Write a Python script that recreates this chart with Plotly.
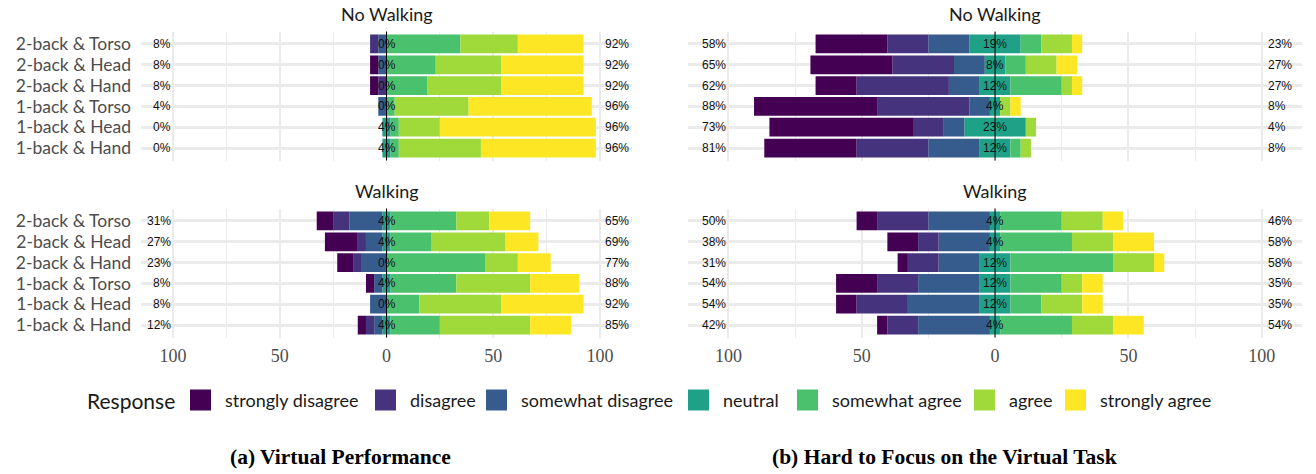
import plotly.graph_objects as go

# ---------------- data (counts out of N respondents) ----------------
N = 26
rows = ["2-back & Torso", "2-back & Head", "2-back & Hand",
        "1-back & Torso", "1-back & Head", "1-back & Hand"]
levels = ["strongly disagree", "disagree", "somewhat disagree", "neutral",
          "somewhat agree", "agree", "strongly agree"]
colors = ["#440154", "#46337E", "#365C8D", "#1FA187", "#4AC16D", "#9FDA3A", "#FDE725"]

# (a) Virtual Performance - No Walking
vp_nw_sd = [0, 1, 1, 0, 0, 0]
vp_nw_d = [1, 0, 1, 0, 0, 0]
vp_nw_swd = [1, 1, 0, 1, 0, 0]
vp_nw_n = [0, 0, 0, 0, 1, 1]
vp_nw_swa = [9, 6, 5, 1, 1, 1]
vp_nw_a = [7, 8, 9, 9, 5, 10]
vp_nw_sa = [8, 10, 10, 15, 19, 14]

# (a) Virtual Performance - Walking
vp_w_sd = [2, 4, 2, 1, 0, 1]
vp_w_d = [2, 1, 1, 0, 0, 1]
vp_w_swd = [4, 2, 3, 1, 2, 1]
vp_w_n = [1, 1, 0, 1, 0, 1]
vp_w_swa = [8, 5, 12, 8, 4, 6]
vp_w_a = [4, 9, 4, 9, 10, 11]
vp_w_sa = [5, 4, 4, 6, 10, 5]

# (b) Hard to Focus on the Virtual Task - No Walking
hf_nw_sd = [7, 8, 4, 12, 14, 9]
hf_nw_d = [4, 6, 9, 9, 3, 7]
hf_nw_swd = [4, 3, 3, 2, 2, 5]
hf_nw_n = [5, 2, 3, 1, 6, 3]
hf_nw_swa = [2, 2, 5, 0, 0, 1]
hf_nw_a = [3, 3, 1, 1, 1, 1]
hf_nw_sa = [1, 2, 1, 1, 0, 0]

# (b) Hard to Focus on the Virtual Task - Walking
hf_w_sd = [2, 3, 1, 4, 2, 1]
hf_w_d = [5, 2, 3, 4, 5, 3]
hf_w_swd = [6, 5, 4, 6, 7, 7]
hf_w_n = [1, 1, 3, 3, 3, 1]
hf_w_swa = [6, 7, 10, 5, 3, 7]
hf_w_a = [4, 4, 4, 2, 4, 4]
hf_w_sa = [2, 4, 1, 2, 2, 3]

panel_titles = ["No Walking", "No Walking", "Walking", "Walking"]
captions = ["(a) Virtual Performance", "(b) Hard to Focus on the Virtual Task"]
tick_vals = [-100, -50, 0, 50, 100]
tick_text = ["100", "50", "0", "50", "100"]

panels = [
    (vp_nw_sd, vp_nw_d, vp_nw_swd, vp_nw_n, vp_nw_swa, vp_nw_a, vp_nw_sa),
    (hf_nw_sd, hf_nw_d, hf_nw_swd, hf_nw_n, hf_nw_swa, hf_nw_a, hf_nw_sa),
    (vp_w_sd, vp_w_d, vp_w_swd, vp_w_n, vp_w_swa, vp_w_a, vp_w_sa),
    (hf_w_sd, hf_w_d, hf_w_swd, hf_w_n, hf_w_swa, hf_w_a, hf_w_sa),
]

# ---------------- layout geometry ----------------
W, H = 1316, 474
x_domains = [(141 / W, 632 / W), (688.4 / W, 1301.7 / W)]
y_domains = [(1 - 160.5 / H, 1 - 31.5 / H), (1 - 337.5 / H, 1 - 208.5 / H)]
XR = [-115, 115]

SANS = "Lato"
SERIF = "Liberation Serif"
NUMF = "Liberation Sans"
GRID = "#EBEBEB"

fig = go.Figure()


def pct(c):
    return c * 100.0 / N


annotations = []
shapes = []

for p, data in enumerate(panels):
    sd, d, swd, n, swa, a, sa = data
    ax = "" if p == 0 else str(p + 1)
    xa, ya = "x" + ax, "y" + ax
    half_n = [pct(v) / 2 for v in n]
    series = [
        (3, [-v for v in half_n]),
        (3, half_n),
        (2, [-pct(v) for v in swd]),
        (4, [pct(v) for v in swa]),
        (1, [-pct(v) for v in d]),
        (5, [pct(v) for v in a]),
        (0, [-pct(v) for v in sd]),
        (6, [pct(v) for v in sa]),
    ]
    for li, vals in series:
        fig.add_trace(go.Bar(
            y=rows, x=vals, orientation="h", width=0.9,
            marker=dict(color=colors[li], line=dict(width=0)),
            name=levels[li], showlegend=False, xaxis=xa, yaxis=ya,
            hovertemplate=levels[li] + ": %{x:.0f}%<extra></extra>",
        ))
    # percent labels
    for i, r in enumerate(rows):
        low = round(pct(sd[i] + d[i] + swd[i]))
        high = round(pct(swa[i] + a[i] + sa[i]))
        neu = round(pct(n[i]))
        common = dict(xref=xa, yref=ya, y=r, showarrow=False,
                      font=dict(family=NUMF, size=12, color="#111111"))
        annotations.append(dict(x=-100, text=f"{low}%", xanchor="right", **common))
        annotations.append(dict(x=101.5, text=f"{high}%", xanchor="left", **common))
        annotations.append(dict(x=0, text=f"{neu}%", xanchor="center", **common))
    # centre line
    shapes.append(dict(type="line", xref=xa, yref=ya + " domain", x0=0, x1=0, y0=0, y1=1,
                       line=dict(color="black", width=1), layer="above"))
    # strip title
    annotations.append(dict(xref=xa + " domain", yref=ya + " domain", x=0.5, y=1,
                            yshift=17.5, yanchor="middle", xanchor="center",
                            text=panel_titles[p], showarrow=False,
                            font=dict(family=SANS, size=18, color="#1A1A1A")))

layout_axes = {}
for p in range(4):
    col = p % 2
    row = p // 2
    ax = "" if p == 0 else str(p + 1)
    layout_axes["xaxis" + ax] = dict(
        domain=x_domains[col], anchor="y" + ax, range=XR, fixedrange=True,
        tickvals=tick_vals, ticktext=tick_text, showticklabels=(row == 1),
        ticks="", showline=False, zeroline=False,
        showgrid=True, gridcolor=GRID, gridwidth=1.7,
        minor=dict(tickvals=[-75, -25, 25, 75], showgrid=True, gridcolor=GRID, gridwidth=1),
        tickfont=dict(family=SERIF, size=18, color="#4D4D4D"),
        ticklabelstandoff=5,
    )
    layout_axes["yaxis" + ax] = dict(
        domain=y_domains[row], anchor="x" + ax, type="category",
        categoryorder="array", categoryarray=rows, range=[5.6, -0.6],
        tickmode="array", tickvals=rows, ticktext=rows,
        showticklabels=(col == 0), ticks="", showline=False, zeroline=False,
        showgrid=True, gridcolor=GRID, gridwidth=2.5, fixedrange=True,
        tickfont=dict(family=SANS, size=17.5, color="#4D4D4D"),
        ticklabelstandoff=9,
    )

# ---------------- manual legend ----------------
legend_swatch_x = [190, 375, 486, 688, 797, 974, 1065]
legend_y = 400
sw = 21
annotations.append(dict(xref="paper", yref="paper", x=85 / W, y=1 - legend_y / H,
                        xanchor="left", yanchor="middle", text="Response", showarrow=False,
                        font=dict(family=SANS, size=21, color="#1A1A1A")))
for li, sx in enumerate(legend_swatch_x):
    shapes.append(dict(type="rect", xref="paper", yref="paper",
                       x0=sx / W, x1=(sx + sw) / W,
                       y0=1 - (legend_y + sw / 2) / H, y1=1 - (legend_y - sw / 2) / H,
                       fillcolor=colors[li], line=dict(width=0)))
    annotations.append(dict(xref="paper", yref="paper", x=(sx + sw + 12) / W,
                            y=1 - legend_y / H, xanchor="left", yanchor="middle",
                            text=levels[li], showarrow=False,
                            font=dict(family=SANS, size=18, color="#1A1A1A")))

# ---------------- captions ----------------
for cx, cap in zip([341 / W, 944.5 / W], captions):
    annotations.append(dict(xref="paper", yref="paper", x=cx, y=1 - 457 / H,
                            xanchor="center", yanchor="middle", text="<b>" + cap + "</b>",
                            showarrow=False,
                            font=dict(family=SERIF, size=21.5, color="#000000")))

fig.update_layout(
    width=W, height=H, margin=dict(l=0, r=0, t=0, b=0),
    barmode="relative", bargap=0.1,
    paper_bgcolor="white", plot_bgcolor="white",
    showlegend=False, annotations=annotations, shapes=shapes,
    **layout_axes,
)

fig.write_html("out.html", config={"displayModeBar": False},
               post_script="document.body.style.margin='0';")
